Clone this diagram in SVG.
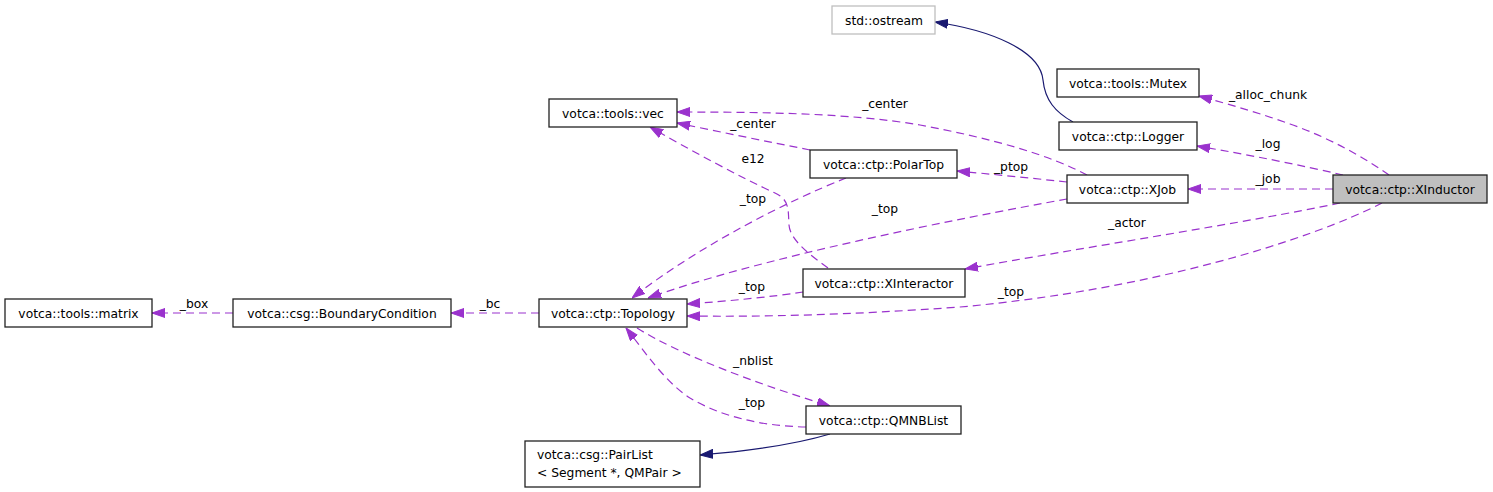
<svg xmlns="http://www.w3.org/2000/svg" width="1493" height="492" viewBox="0 0 1493 492">
<style>
text{font-family:"DejaVu Sans","Liberation Sans",sans-serif;font-size:12.3px;fill:#000}
.node rect{fill:#fff;stroke:#222;stroke-width:1.3}
.node text{text-anchor:middle}
.node text.left{text-anchor:start}
.focus rect{fill:#bfbfbf}
.ext rect{stroke:#bfbfbf}
.dep{fill:none;stroke:#9a32cd;stroke-width:1.2;stroke-dasharray:8,5}
.inh{fill:none;stroke:#191970;stroke-width:1.2}
.lbl{text-anchor:middle}
</style>
<defs>
<marker id="ap" viewBox="0 0 13 10" refX="13" refY="5" markerWidth="13" markerHeight="10" markerUnits="userSpaceOnUse" orient="auto">
<path d="M0,0.5 L13,5 L0,9.5 z" fill="#9a32cd" stroke="#9a32cd" stroke-width="1" stroke-dasharray="none"/>
</marker>
<marker id="an" viewBox="0 0 13 10" refX="13" refY="5" markerWidth="13" markerHeight="10" markerUnits="userSpaceOnUse" orient="auto">
<path d="M0,0.5 L13,5 L0,9.5 z" fill="#191970" stroke="#191970" stroke-width="1" stroke-dasharray="none"/>
</marker>
</defs>
<g id="connectors">
<path class="dep" marker-end="url(#ap)" d="M1389,175 C1365,158 1330,138 1290,124 C1262,114 1232,105 1199,96"/>
<text class="lbl" x="1268" y="99">_alloc_chunk</text>
<path class="dep" marker-end="url(#ap)" d="M1343,175 C1300,165 1250,155 1197,146"/>
<text class="lbl" x="1268" y="148">_log</text>
<path class="dep" marker-end="url(#ap)" d="M1333,189 L1188,189"/>
<text class="lbl" x="1268" y="183">_job</text>
<path class="dep" marker-end="url(#ap)" d="M1340,203 C1250,222 1080,248 965,269"/>
<text class="lbl" x="1127" y="227">_actor</text>
<path class="dep" marker-end="url(#ap)" d="M1382,203 C1310,240 1150,290 960,307 C850,315 760,317 687,316"/>
<text class="lbl" x="1011" y="296">_top</text>
<path class="dep" marker-end="url(#ap)" d="M1087,175 C1050,155 990,138 920,125 C850,113 760,112 677,112"/>
<text class="lbl" x="885" y="108">_center</text>
<path class="dep" marker-end="url(#ap)" d="M1067,182 C1030,178 990,174 957,171"/>
<text class="lbl" x="1011" y="171">_ptop</text>
<path class="dep" marker-end="url(#ap)" d="M1067,199 C950,220 760,258 648,298"/>
<text class="lbl" x="885" y="213">_top</text>
<path class="dep" marker-end="url(#ap)" d="M810,150 C770,142 720,132 677,123"/>
<text class="lbl" x="753" y="128">_center</text>
<path class="dep" marker-end="url(#ap)" d="M846,178 C790,200 700,245 632,298"/>
<text class="lbl" x="753" y="203">_top</text>
<path class="dep" marker-end="url(#ap)" d="M828,268 C810,255 790,240 789,225 C788,210 790,200 775,193 C740,177 690,150 650,127"/>
<text class="lbl" x="753" y="163">e12</text>
<path class="dep" marker-end="url(#ap)" d="M803,292 C770,297 730,301 687,304"/>
<text class="lbl" x="752" y="291">_top</text>
<path class="dep" marker-end="url(#ap)" d="M233,313 L152,313"/>
<text class="lbl" x="194" y="308">_box</text>
<path class="dep" marker-end="url(#ap)" d="M539,313 L451,313"/>
<text class="lbl" x="490" y="308">_bc</text>
<path class="dep" marker-end="url(#ap)" d="M637,328 C680,355 760,385 830,406"/>
<text class="lbl" x="753" y="365">_nblist</text>
<path class="dep" marker-end="url(#ap)" d="M806,427 C760,426 720,416 690,398 C665,382 645,352 626,328"/>
<text class="lbl" x="752" y="407">_top</text>
<path class="inh" marker-end="url(#an)" d="M1073,122 C1055,112 1045,100 1043,80 C1040,50 990,30 935,22"/>
<path class="inh" marker-end="url(#an)" d="M830,434 C800,443 760,450 700,455"/>
</g>
<g id="n_ostream" class="node ext"><rect x="832" y="6" width="103" height="28"/><text x="884" y="25">std::ostream</text></g>
<g id="n_mutex" class="node"><rect x="1057" y="69" width="142" height="28"/><text x="1128" y="87.5">votca::tools::Mutex</text></g>
<g id="n_logger" class="node"><rect x="1059" y="122" width="138" height="28"/><text x="1128" y="140.5">votca::ctp::Logger</text></g>
<g id="n_vec" class="node"><rect x="549" y="99" width="128" height="28"/><text x="613" y="117.5">votca::tools::vec</text></g>
<g id="n_polartop" class="node"><rect x="810" y="150" width="147" height="28"/><text x="883.5" y="168.5">votca::ctp::PolarTop</text></g>
<g id="n_xjob" class="node"><rect x="1067" y="175" width="121" height="28"/><text x="1127.5" y="193.5">votca::ctp::XJob</text></g>
<g id="n_xinductor" class="node focus"><rect x="1333" y="175" width="154" height="28"/><text x="1410" y="193.5">votca::ctp::XInductor</text></g>
<g id="n_xinteractor" class="node"><rect x="803" y="269" width="162" height="28"/><text x="884" y="287.5">votca::ctp::XInteractor</text></g>
<g id="n_matrix" class="node"><rect x="5" y="299" width="147" height="28"/><text x="78.5" y="317.5">votca::tools::matrix</text></g>
<g id="n_bc" class="node"><rect x="233" y="299" width="218" height="28"/><text x="342" y="317.5">votca::csg::BoundaryCondition</text></g>
<g id="n_topology" class="node"><rect x="539" y="299" width="148" height="28"/><text x="613" y="317.5">votca::ctp::Topology</text></g>
<g id="n_qmnblist" class="node"><rect x="806" y="406" width="155" height="28"/><text x="883.5" y="424.5">votca::ctp::QMNBList</text></g>
<g id="n_pairlist" class="node"><rect x="525" y="441" width="175" height="46"/><text class="left" x="537" y="459">votca::csg::PairList</text><text class="left" x="537" y="477">&lt; Segment *, QMPair &gt;</text></g>
</svg>
